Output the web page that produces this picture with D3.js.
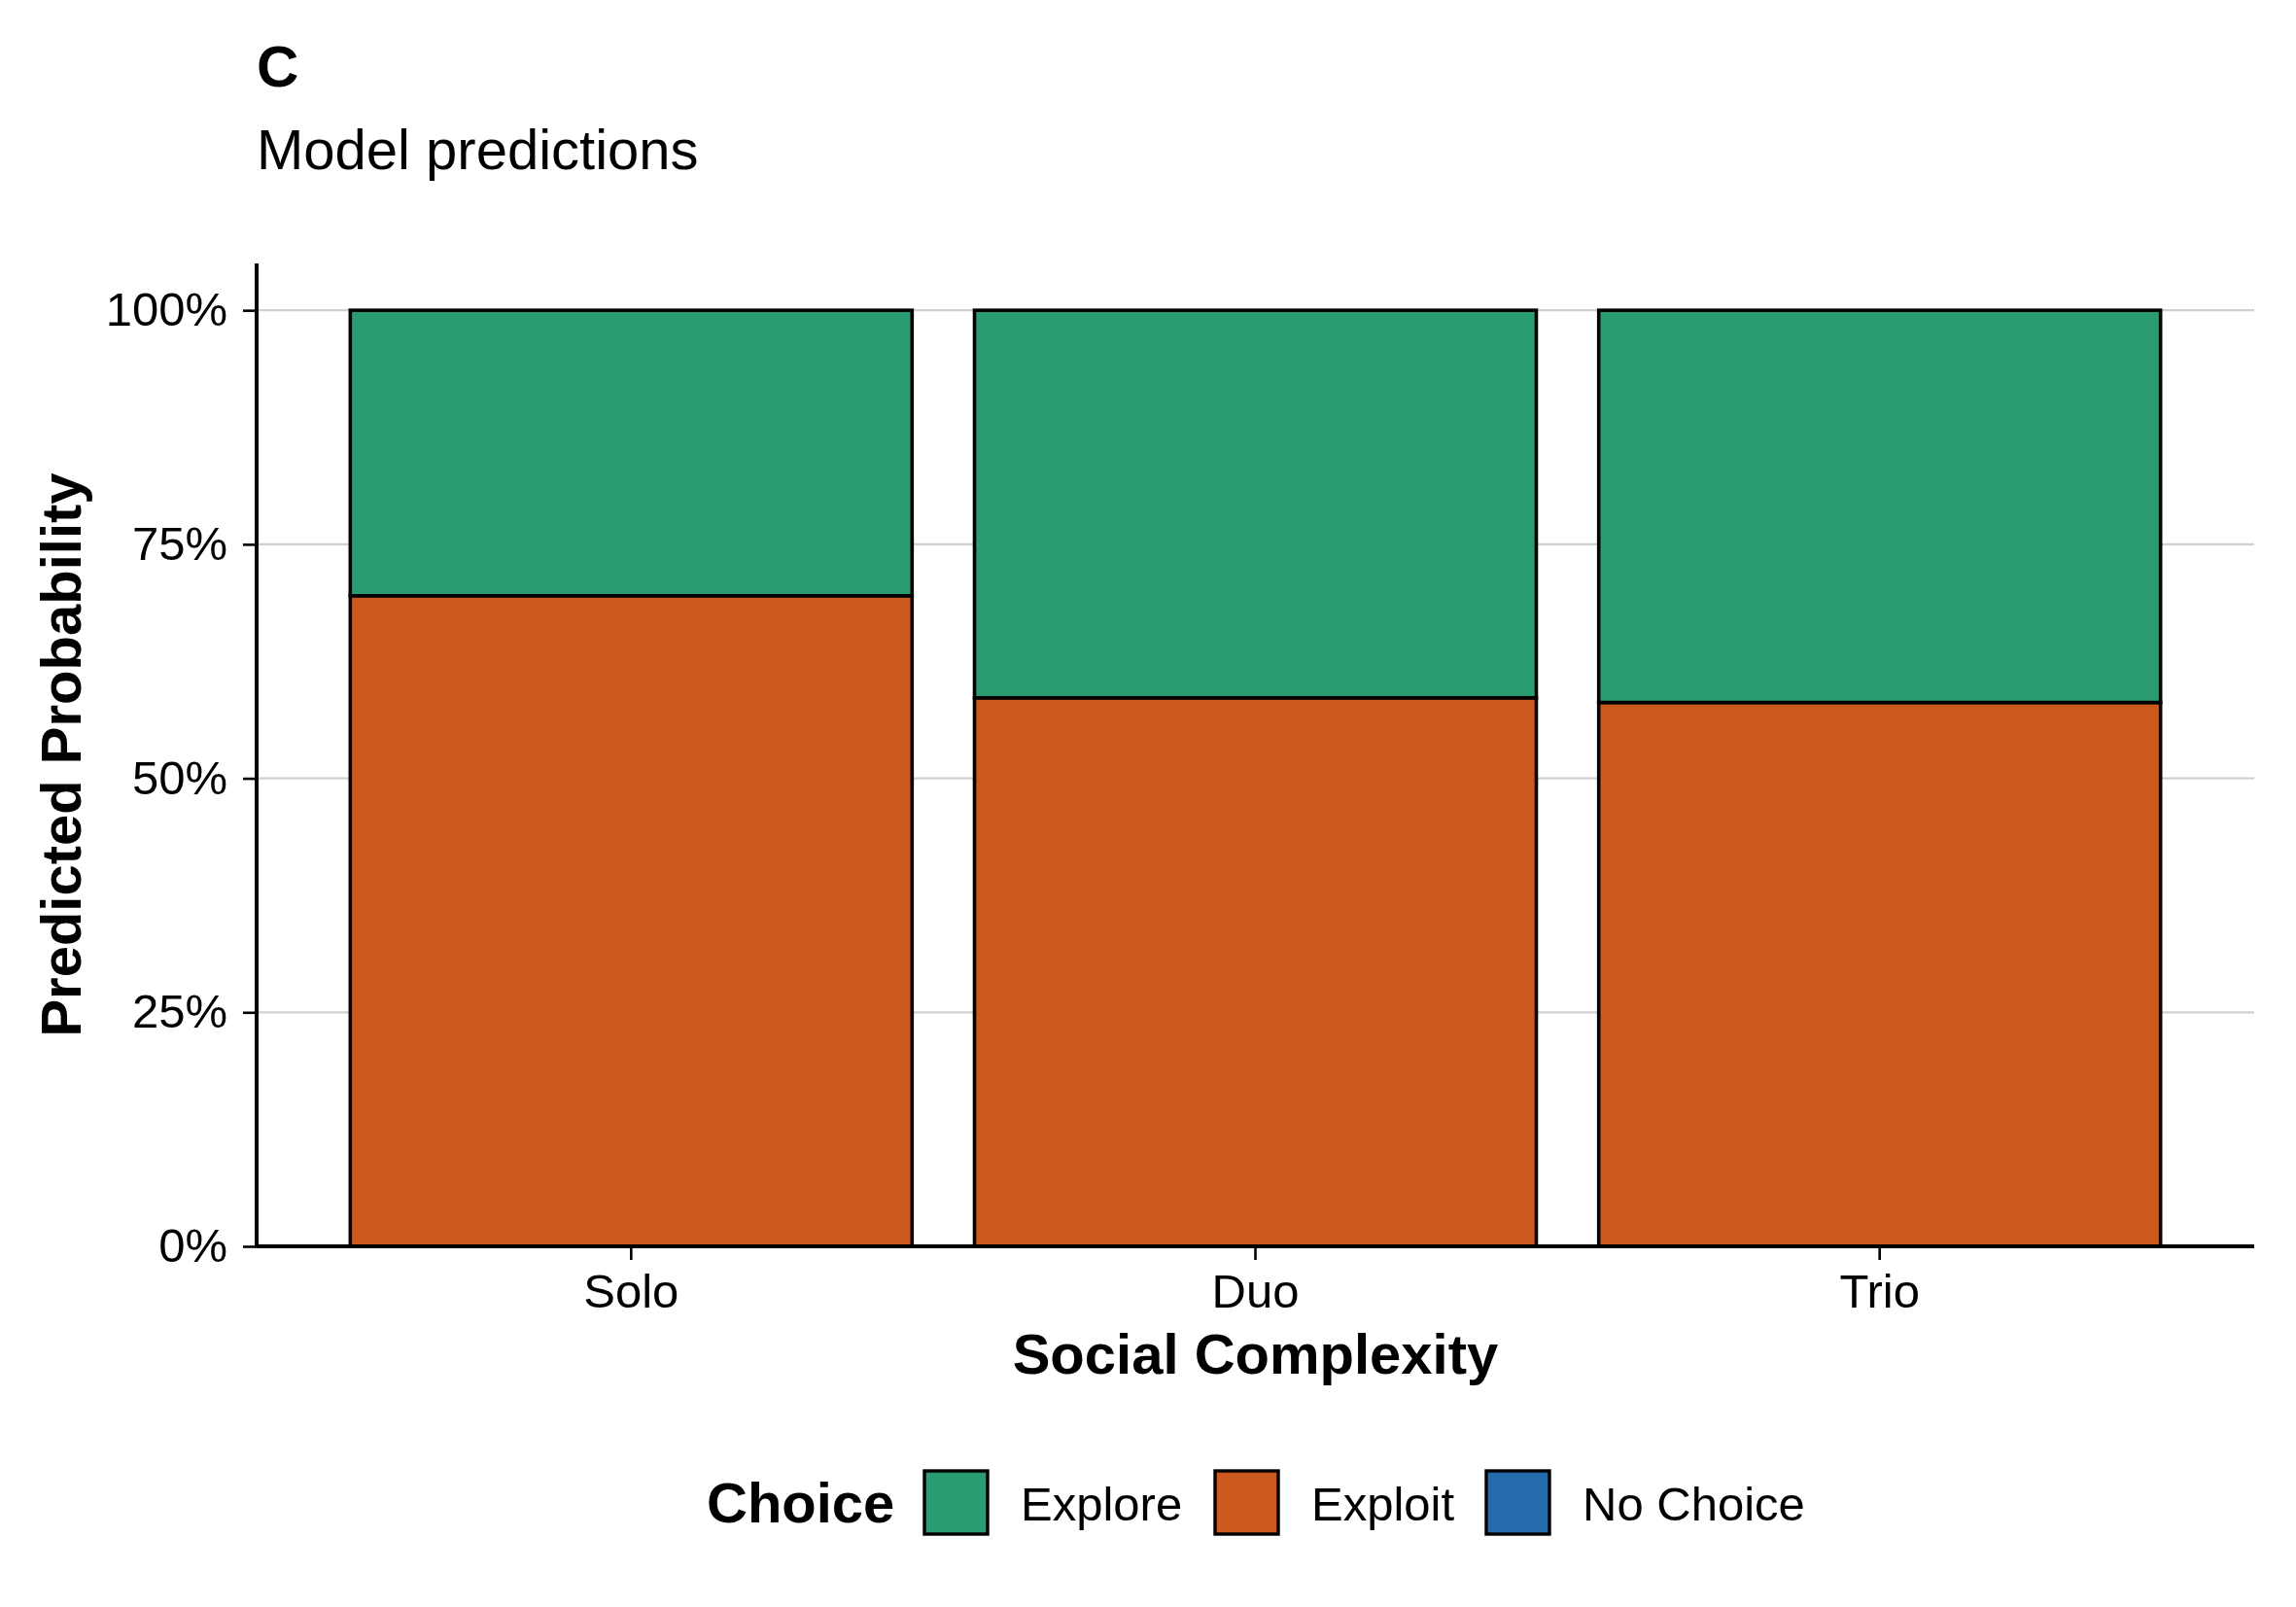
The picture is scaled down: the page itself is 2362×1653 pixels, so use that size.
<!DOCTYPE html>
<html>
<head>
<meta charset="utf-8">
<script src="https://cdn.jsdelivr.net/npm/d3@7"></script>
<style>
  body { margin: 0; background: #fff; }
  svg text { font-family: "Liberation Sans", Arial, sans-serif; fill: #000; }
</style>
</head>
<body>
<svg id="Viz" width="2362" height="1653"></svg>
<script>
  // values
  var categories = ["Solo", "Duo", "Trio"];
  var explore = [0.305, 0.414, 0.419];
  var exploit = [0.695, 0.586, 0.581];
  var noChoice = [0, 0, 0];
  var choices = ["Explore", "Exploit", "No Choice"];
  var choiceColors = ["#2b9c71", "#cc5a1f", "#236bad"];
  var yTicks = [0, 0.25, 0.5, 0.75, 1];

  var svg = d3.select('#Viz');
  var pLeft = 264, pRight = 2319, pTop = 271, pBottom = 1282;

  var rows = categories.map(function(c, i) {
    return {cat: c, "Explore": explore[i], "Exploit": exploit[i], "No Choice": noChoice[i]};
  });

  var x = d3.scaleBand().domain(categories).range([pLeft, pRight])
    .paddingInner(0.1).paddingOuter(0.15);
  var y = d3.scaleLinear().domain([0, 1.05]).range([pBottom, pTop]);
  var color = d3.scaleOrdinal().domain(choices).range(choiceColors);

  // grid
  svg.append('g').selectAll('line')
    .data(yTicks)
   .enter().append('line')
    .attr('x1', pLeft).attr('x2', pRight)
    .attr('y1', function(d) { return y(d); })
    .attr('y2', function(d) { return y(d); })
    .style('stroke', '#d0d0d0').style('stroke-width', 2.2);

  // stacked bars, first level on top like ggplot
  var stack = d3.stack().keys(["No Choice", "Exploit", "Explore"]);
  var layers = stack(rows);

  svg.append('g').selectAll('g')
    .data(layers)
   .enter().append('g')
    .style('fill', function(d) { return color(d.key); })
    .selectAll('rect')
    .data(function(d) { return d.filter(function(p) { return p[1] - p[0] > 0; }); })
   .enter().append('rect')
    .attr('x', function(d) { return x(d.data.cat); })
    .attr('width', x.bandwidth())
    .attr('y', function(d) { return y(d[1]); })
    .attr('height', function(d) { return y(d[0]) - y(d[1]); })
    .style('stroke', '#000').style('stroke-width', 3.6);

  // axes
  var yAxis = svg.append('g')
    .attr('transform', 'translate(' + pLeft + ',0)')
    .call(d3.axisLeft(y).tickValues(yTicks).tickFormat(d3.format('.0%')).tickSize(14).tickPadding(16));
  yAxis.select('.domain').attr('d', 'M0,' + pTop + 'V' + pBottom);

  var xAxis = svg.append('g')
    .attr('transform', 'translate(0,' + pBottom + ')')
    .call(d3.axisBottom(x).tickSize(14).tickPadding(14));
  xAxis.select('.domain').attr('d', 'M' + pLeft + ',0H' + pRight);

  svg.selectAll('.domain').style('stroke', '#000').style('stroke-width', 4);
  svg.selectAll('.tick line').style('stroke', '#000').style('stroke-width', 2.6);
  svg.selectAll('.tick text').style('font-size', '49px').style('font-family', '"Liberation Sans", Arial, sans-serif').style('fill', '#000');

  // titles
  svg.append('text').attr('x', 264).attr('y', 89)
    .style('font-size', '60px').style('font-weight', 'bold').text('C');
  svg.append('text').attr('x', 264).attr('y', 174)
    .style('font-size', '58px').text('Model predictions');

  svg.append('text').attr('x', (pLeft + pRight) / 2).attr('y', 1413)
    .attr('text-anchor', 'middle')
    .style('font-size', '58px').style('font-weight', 'bold').text('Social Complexity');
  svg.append('text')
    .attr('transform', 'translate(83,' + (pTop + pBottom) / 2 + ') rotate(-90)')
    .attr('text-anchor', 'middle')
    .style('font-size', '58px').style('font-weight', 'bold').text('Predicted Probability');

  // legend
  var legend = svg.append('g');
  legend.append('text').attr('x', 727).attr('y', 1566)
    .style('font-size', '58px').style('font-weight', 'bold').text('Choice');
  var keyX = [951, 1250, 1529];
  var items = legend.selectAll('g.key')
    .data(choices)
   .enter().append('g').attr('class', 'key')
    .attr('transform', function(d, i) { return 'translate(' + keyX[i] + ',1513)'; });
  items.append('rect')
    .attr('width', 65).attr('height', 65)
    .style('fill', function(d) { return color(d); })
    .style('stroke', '#000').style('stroke-width', 3.4);
  items.append('text').attr('x', 99).attr('y', 51)
    .style('font-size', '49px').text(function(d) { return d; });
</script>
</body>
</html>
